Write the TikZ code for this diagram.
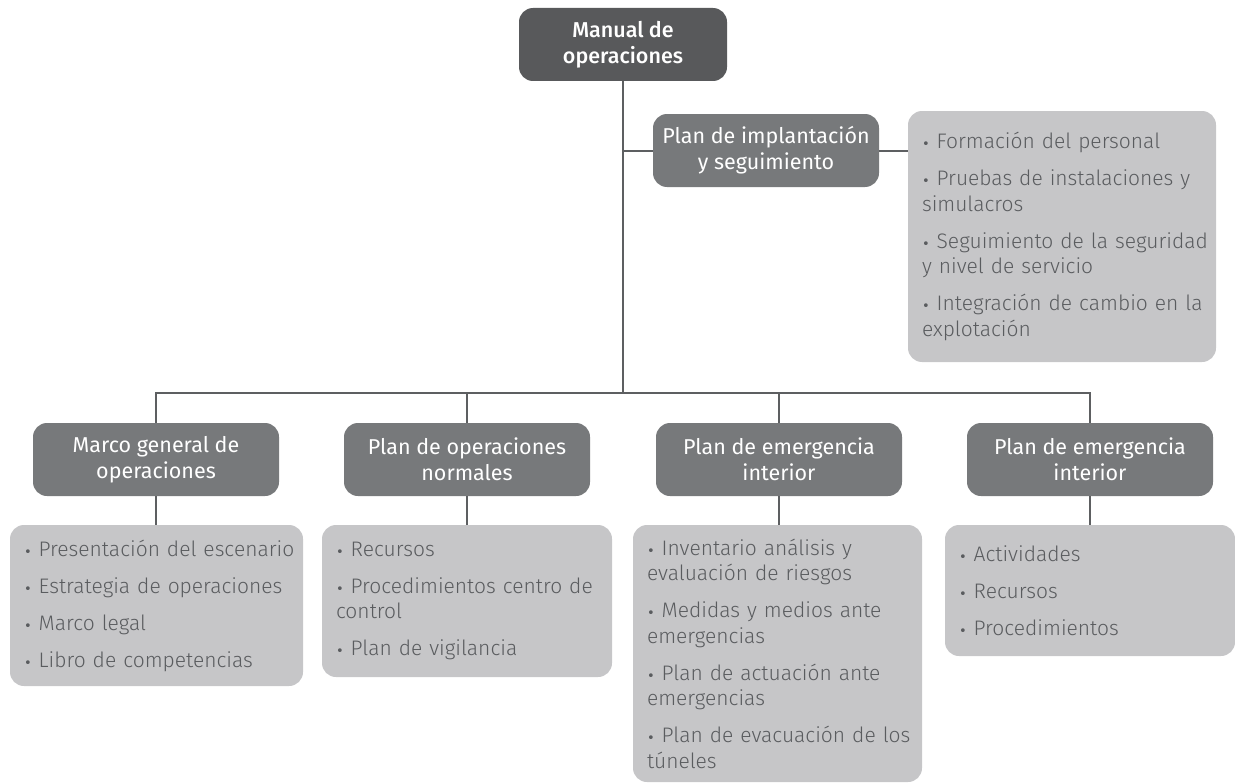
\documentclass[tikz,border=0pt]{standalone}
\usepackage{fontspec}
\setmainfont{Fira Sans}
\newfontfamily\lightfont{Fira Sans Light}
\newfontfamily\medfont{Fira Sans Medium}
\newfontfamily\dotfont{DejaVu Sans}
\definecolor{topgray}{HTML}{58595B}
\definecolor{boxgray}{HTML}{77797B}
\definecolor{listgray}{HTML}{C6C6C8}
\definecolor{linegray}{HTML}{5D5F61}
\definecolor{listtext}{HTML}{5A5C5F}
\hyphenpenalty=10000
\exhyphenpenalty=10000
\newcommand{\itm}{{\dotfont\fontsize{13}{13}\selectfont •}\ }
\newcommand{\gap}{\par\vspace{11.5pt}}
\newcommand{\lst}{\leftskip=14pt\rightskip=0pt plus 1fil\relax}
\begin{document}
\begin{tikzpicture}[x=1pt,y=-1pt,
  headbox/.style={fill=boxgray,rounded corners=14pt,text=white,align=center,
    font=\fontsize{21.5}{26}\selectfont,minimum height=73pt,inner sep=0pt},
  listbox/.style={fill=listgray,rounded corners=14pt,text=listtext,align=left,
    font=\lightfont\fontsize{21}{25.5}\selectfont,inner sep=0pt},
  link/.style={draw=linegray,line width=2pt}]
\useasboundingbox (0,0) rectangle (1235,784);

% root and side branch
\node[headbox,fill=topgray,minimum width=208pt,font=\medfont\fontsize{21.5}{26}\selectfont] (m) at (623,44.5) {Manual de\\operaciones};
\node[headbox,minimum width=226pt] (p) at (766,150.5) {Plan de implantación\\y seguimiento};
\node[listbox,text width=308pt,minimum height=251pt] (pl) at (1062,236.5) {\lst
\itm Formación del personal\gap
\itm Pruebas de instalaciones y simulacros\gap
\itm Seguimiento de la seguridad y~nivel de servicio\gap
\itm Integración de cambio en la explotación\par};

% second level
\node[headbox,minimum width=246pt] (b1) at (156,459.5) {Marco general de\\operaciones};
\node[headbox,minimum width=246pt] (b2) at (467,459.5) {Plan de operaciones\\normales};
\node[headbox,minimum width=246pt] (b3) at (779,459.5) {Plan de emergencia\\interior};
\node[headbox,minimum width=246pt] (b4) at (1090,459.5) {Plan de emergencia\\interior};

% item lists
\node[listbox,text width=293pt,minimum height=161pt] (l1) at (156.5,605.5) {\lst
\itm Presentación del escenario\gap
\itm Estrategia de operaciones\gap
\itm Marco legal\gap
\itm Libro de competencias\par};
\node[listbox,text width=290pt,minimum height=152pt] (l2) at (467,601) {\lst
\itm Recursos\gap
\itm Procedimientos centro de control\gap
\itm Plan de vigilancia\par};
\node[listbox,text width=289pt,minimum height=257pt] (l3) at (777.5,653.5) {\lst
\itm Inventario análisis y evaluación de riesgos\gap
\itm Medidas y medios ante emergencias\gap
\itm Plan de actuación ante emergencias\gap
\itm Plan de evacuación de los túneles\par};
\node[listbox,text width=290pt,minimum height=131pt] (l4) at (1090,590.5) {\lst
\itm Actividades\gap
\itm Recursos\gap
\itm Procedimientos\par};

% connectors
\coordinate (bar) at (623,393);
\draw[link] (m.south) -- (bar);
\draw[link] (p.west) -- (p.west -| m.south);
\draw[link] (p.east) -- (p.east -| pl.west);
\draw[link] (b1.north) |- (bar);
\draw[link] (b4.north) |- (bar);
\draw[link] (b2.north) -- (b2.north |- bar);
\draw[link] (b3.north) -- (b3.north |- bar);
\draw[link] (b1.south) -- (b1.south |- l1.north);
\draw[link] (b2.south) -- (b2.south |- l2.north);
\draw[link] (b3.south) -- (b3.south |- l3.north);
\draw[link] (b4.south) -- (b4.south |- l4.north);
\end{tikzpicture}
\end{document}
